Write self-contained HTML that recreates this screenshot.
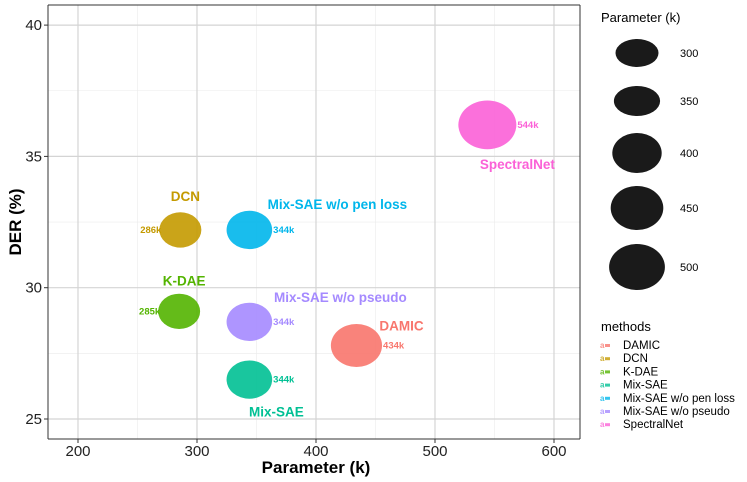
<!DOCTYPE html>
<html><head><meta charset="utf-8"><style>
body{margin:0;background:#fff;font-family:"Liberation Sans",sans-serif}
</style></head><body>
<svg id="c" width="747" height="482" style="display:block"></svg>
<script>
const methods=["DAMIC","DCN","K-DAE","Mix-SAE","Mix-SAE w/o pen loss","Mix-SAE w/o pseudo","SpectralNet"];
const params=[434,286,285,344,344,344,544];
const der=[27.8,32.2,29.1,26.5,32.2,28.7,36.2];
const colors=["#F8766D","#C49A00","#53B400","#00C094","#00B6EB","#A58AFF","#FB61D7"];
const xTicks=[200,300,400,500,600];
const yTicks=[25,30,35,40];
const legendSizes=[300,350,400,450,500];
// name label offsets: [dx, dy] relative to point (placement, not data)
const nameOff=[[45,-15],[5,-29],[5,-26],[27,37],[88,-21],[91,-20],[30,44]];
const ns="http://www.w3.org/2000/svg";
const svg=document.getElementById('c');
const L=48,R=580,T=5,B=439;
const X=v=>78+(v-200)*1.19;
const Y=v=>419-(v-25)*26.26;
const RX=p=>21+0.031*(p-286);
function el(t,a,txt){const e=document.createElementNS(ns,t);for(const k in a)e.setAttribute(k,a[k]);if(txt!=null)e.textContent=txt;svg.appendChild(e);return e;}
let e=el('rect',{x:L,y:T,width:R-L,height:B-T,fill:'#fff',stroke:'none'});

for(let v=250;v<=550;v+=100){e=el('line',{x1:X(v),x2:X(v),y1:T,y2:B,stroke:'#ebebeb','stroke-width':0.6});}
for(let v=27.5;v<=37.5;v+=5){e=el('line',{x1:L,x2:R,y1:Y(v),y2:Y(v),stroke:'#ebebeb','stroke-width':0.6});}
xTicks.forEach(v=>{e=el('line',{x1:X(v),x2:X(v),y1:T,y2:B,stroke:'#d4d4d4','stroke-width':1.2});
 e=el('line',{x1:X(v),x2:X(v),y1:B,y2:B+4,stroke:'#333','stroke-width':1});
 e=el('text',{x:X(v),y:B+17,'text-anchor':'middle','font-size':15,fill:'#222'},v);});
yTicks.forEach(v=>{e=el('line',{x1:L,x2:R,y1:Y(v),y2:Y(v),stroke:'#d4d4d4','stroke-width':1.2});
 e=el('line',{x1:L-4,x2:L,y1:Y(v),y2:Y(v),stroke:'#333','stroke-width':1});
 e=el('text',{x:L-6,y:Y(v)+5,'text-anchor':'end','font-size':15,fill:'#222'},v);});
e=el('line',{x1:L,x2:L,y1:T,y2:B,stroke:'#333','stroke-width':1});
e=el('line',{x1:L,x2:R,y1:B,y2:B,stroke:'#333','stroke-width':1});
e=el('line',{x1:R,x2:R,y1:T,y2:B,stroke:'#333','stroke-width':1});
e=el('line',{x1:L,x2:R,y1:T,y2:T,stroke:'#333','stroke-width':1});
e=el('text',{x:316,y:473,'text-anchor':'middle','font-size':17,'font-weight':'bold',fill:'#000'},'Parameter (k)');

e=el('text',{x:0,y:0,'text-anchor':'middle','font-size':17,'font-weight':'bold',fill:'#000',transform:'translate(21,222) rotate(-90)'},'DER (%)');

methods.forEach((m,i)=>{
 const cx=X(params[i]),cy=Y(der[i]),rx=RX(params[i]);
 e=el('ellipse',{cx:cx,cy:cy,rx:rx,ry:rx*0.84,fill:colors[i],'fill-opacity':0.9});
 
 const left=params[i]<300;
 e=el('text',{x:left?cx-rx+2:cx+rx+1,y:cy+3,'text-anchor':left?'end':'start','font-size':9.5,'font-weight':'bold',fill:colors[i]},params[i]+'k');
 
 e=el('text',{x:cx+nameOff[i][0],y:cy+nameOff[i][1],'text-anchor':'middle','font-size':13.5,'font-weight':'bold',fill:colors[i]},m);
 
});
e=el('text',{x:601,y:22,'font-size':13,fill:'#000'},'Parameter (k)');

const ly=[53,101,153,208,267];
legendSizes.forEach((s,i)=>{
 const rx=21.5+i*1.6;
 e=el('ellipse',{cx:637,cy:ly[i],rx:rx,ry:[14,15,20,22,23][i],fill:'#1a1a1a'});
 
 e=el('text',{x:680,y:ly[i]+4,'font-size':11,fill:'#000'},s);
 
});
e=el('text',{x:601,y:331,'font-size':13,fill:'#000'},'methods');

methods.forEach((m,i)=>{
 const y=345+i*13.2;
 e=el('text',{x:600,y:y+3,'font-size':8,'font-weight':'bold',fill:colors[i],opacity:0.8},'a');
 
 e=el('rect',{x:605,y:y-1,width:5,height:3,fill:colors[i],opacity:0.8});
 
 e=el('text',{x:623,y:y+4,'font-size':11.5,fill:'#000'},m);
 
});
</script>
</body></html>
